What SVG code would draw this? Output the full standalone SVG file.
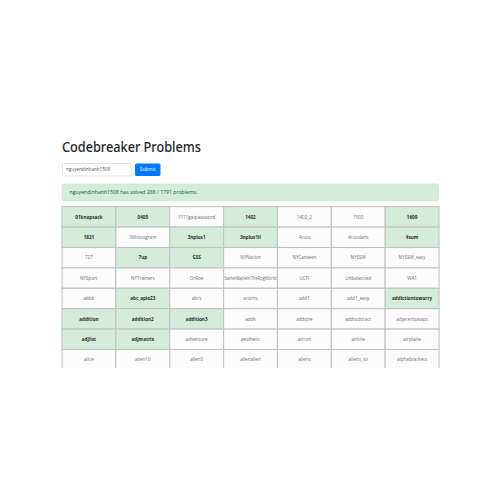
<svg xmlns="http://www.w3.org/2000/svg" width="500" height="500" viewBox="0 0 500 500">
<defs>
<style>
.t{font-family:"Open Sans","Noto Sans","Liberation Sans",sans-serif;}
.c rect{stroke:#c2c2c2;stroke-width:1.1;}
.g rect{fill:#d4edda;}
.w rect{fill:#fcfcfd;}
.c text{font-family:"Open Sans","Noto Sans","Liberation Sans",sans-serif;font-size:4.6px;text-anchor:middle;}
.g text{font-weight:bold;fill:#2a2a2a;}
.w text{fill:#6f6f6f;}
</style>
<clipPath id="clip"><rect x="0" y="0" width="500" height="368"/></clipPath>
</defs>
<rect width="500" height="500" fill="#ffffff"/>
<g id="header">
<text x="62" y="152" font-family="Noto Sans, Open Sans, Liberation Sans, sans-serif" font-weight="500" font-size="14.5" fill="#212529" textLength="139" lengthAdjust="spacingAndGlyphs">Codebreaker Problems</text>
</g>
<g id="input">
<rect x="62.5" y="163.5" width="69.5" height="12.5" rx="1.5" fill="#fff" stroke="#d6d9dc" stroke-width="0.8"/>
<text class="t" x="66" y="171.4" font-size="4.6" fill="#555">nguyendinhanh1508</text>
</g>
<g id="submit">
<rect x="135" y="163.5" width="25.5" height="12.5" rx="1.5" fill="#007bff"/>
<text class="t" x="147.7" y="171.4" font-size="4.8" fill="#fff" text-anchor="middle">Submit</text>
</g>
<g id="alert">
<rect x="62" y="184" width="376.5" height="17" rx="1.5" fill="#d4edda" stroke="#c3e6cb" stroke-width="0.6"/>
<text class="t" x="69.5" y="194" font-size="4.6" fill="#155724" textLength="128" lengthAdjust="spacingAndGlyphs">nguyendinhanh1508 has solved 288 / 1791 problems.</text>
</g>
<g id="table" clip-path="url(#clip)">
<!-- row 1 -->
<g id="c1-1" class="c g"><rect x="62" y="206.7" width="53.86" height="20.4"/><text x="88.9" y="218.5">01knapsack</text></g>
<g id="c1-2" class="c g"><rect x="115.86" y="206.7" width="53.86" height="20.4"/><text x="142.8" y="218.5">0405</text></g>
<g id="c1-3" class="c w"><rect x="169.72" y="206.7" width="53.86" height="20.4"/><text x="196.6" y="218.5">1111gaipassword</text></g>
<g id="c1-4" class="c g"><rect x="223.58" y="206.7" width="53.86" height="20.4"/><text x="250.5" y="218.5">1402</text></g>
<g id="c1-5" class="c w"><rect x="277.44" y="206.7" width="53.86" height="20.4"/><text x="304.4" y="218.5">1402_2</text></g>
<g id="c1-6" class="c w"><rect x="331.3" y="206.7" width="53.86" height="20.4"/><text x="358.2" y="218.5">1503</text></g>
<g id="c1-7" class="c g"><rect x="385.16" y="206.7" width="53.86" height="20.4"/><text x="412.1" y="218.5">1609</text></g>
<!-- row 2 -->
<g id="c2-1" class="c g"><rect x="62" y="227.1" width="53.86" height="20.4"/><text x="88.9" y="238.9">1821</text></g>
<g id="c2-2" class="c w"><rect x="115.86" y="227.1" width="53.86" height="20.4"/><text x="142.8" y="238.9">3dhistogram</text></g>
<g id="c2-3" class="c g"><rect x="169.72" y="227.1" width="53.86" height="20.4"/><text x="196.6" y="238.9">3nplus1</text></g>
<g id="c2-4" class="c g"><rect x="223.58" y="227.1" width="53.86" height="20.4"/><text x="250.5" y="238.9">3nplus1ll</text></g>
<g id="c2-5" class="c w"><rect x="277.44" y="227.1" width="53.86" height="20.4"/><text x="304.4" y="238.9">4cuts</text></g>
<g id="c2-6" class="c w"><rect x="331.3" y="227.1" width="53.86" height="20.4"/><text x="358.2" y="238.9">4russians</text></g>
<g id="c2-7" class="c g"><rect x="385.16" y="227.1" width="53.86" height="20.4"/><text x="412.1" y="238.9">4sum</text></g>
<!-- row 3 -->
<g id="c3-1" class="c w"><rect x="62" y="247.5" width="53.86" height="20.4"/><text x="88.9" y="259.3">727</text></g>
<g id="c3-2" class="c g"><rect x="115.86" y="247.5" width="53.86" height="20.4"/><text x="142.8" y="259.3">7up</text></g>
<g id="c3-3" class="c g"><rect x="169.72" y="247.5" width="53.86" height="20.4"/><text x="196.6" y="259.3">GSS</text></g>
<g id="c3-4" class="c w"><rect x="223.58" y="247.5" width="53.86" height="20.4"/><text x="250.5" y="259.3">NYNation</text></g>
<g id="c3-5" class="c w"><rect x="277.44" y="247.5" width="53.86" height="20.4"/><text x="304.4" y="259.3">NYCanteen</text></g>
<g id="c3-6" class="c w"><rect x="331.3" y="247.5" width="53.86" height="20.4"/><text x="358.2" y="259.3">NYSSW</text></g>
<g id="c3-7" class="c w"><rect x="385.16" y="247.5" width="53.86" height="20.4"/><text x="412.1" y="259.3">NYSSW_easy</text></g>
<!-- row 4 -->
<g id="c4-1" class="c w"><rect x="62" y="267.9" width="53.86" height="20.4"/><text x="88.9" y="279.7">NYSport</text></g>
<g id="c4-2" class="c w"><rect x="115.86" y="267.9" width="53.86" height="20.4"/><text x="142.8" y="279.7">NYTrainers</text></g>
<g id="c4-3" class="c w"><rect x="169.72" y="267.9" width="53.86" height="20.4"/><text x="196.6" y="279.7">OrRoe</text></g>
<g id="c4-4" class="c w"><rect x="223.58" y="267.9" width="53.86" height="20.4"/><text x="250.5" y="279.7" textLength="52" lengthAdjust="spacingAndGlyphs">SameMapleInTheRpgWorld</text></g>
<g id="c4-5" class="c w"><rect x="277.44" y="267.9" width="53.86" height="20.4"/><text x="304.4" y="279.7">UCFI</text></g>
<g id="c4-6" class="c w"><rect x="331.3" y="267.9" width="53.86" height="20.4"/><text x="358.2" y="279.7">Unbalanced</text></g>
<g id="c4-7" class="c w"><rect x="385.16" y="267.9" width="53.86" height="20.4"/><text x="412.1" y="279.7">WA1</text></g>
<!-- row 5 -->
<g id="c5-1" class="c w"><rect x="62" y="288.3" width="53.86" height="20.4"/><text x="88.9" y="300.1">abbb</text></g>
<g id="c5-2" class="c g"><rect x="115.86" y="288.3" width="53.86" height="20.4"/><text x="142.8" y="300.1">abc_apio23</text></g>
<g id="c5-3" class="c w"><rect x="169.72" y="288.3" width="53.86" height="20.4"/><text x="196.6" y="300.1">abcs</text></g>
<g id="c5-4" class="c w"><rect x="223.58" y="288.3" width="53.86" height="20.4"/><text x="250.5" y="300.1">acorns</text></g>
<g id="c5-5" class="c w"><rect x="277.44" y="288.3" width="53.86" height="20.4"/><text x="304.4" y="300.1">add1</text></g>
<g id="c5-6" class="c w"><rect x="331.3" y="288.3" width="53.86" height="20.4"/><text x="358.2" y="300.1">add1_easy</text></g>
<g id="c5-7" class="c g"><rect x="385.16" y="288.3" width="53.86" height="20.4"/><text x="412.1" y="300.1">addictiontoworry</text></g>
<!-- row 6 -->
<g id="c6-1" class="c g"><rect x="62" y="308.7" width="53.86" height="20.4"/><text x="88.9" y="320.5">addition</text></g>
<g id="c6-2" class="c g"><rect x="115.86" y="308.7" width="53.86" height="20.4"/><text x="142.8" y="320.5">addition2</text></g>
<g id="c6-3" class="c g"><rect x="169.72" y="308.7" width="53.86" height="20.4"/><text x="196.6" y="320.5">addition3</text></g>
<g id="c6-4" class="c w"><rect x="223.58" y="308.7" width="53.86" height="20.4"/><text x="250.5" y="320.5">addk</text></g>
<g id="c6-5" class="c w"><rect x="277.44" y="308.7" width="53.86" height="20.4"/><text x="304.4" y="320.5">addone</text></g>
<g id="c6-6" class="c w"><rect x="331.3" y="308.7" width="53.86" height="20.4"/><text x="358.2" y="320.5">addsubtract</text></g>
<g id="c6-7" class="c w"><rect x="385.16" y="308.7" width="53.86" height="20.4"/><text x="412.1" y="320.5">adjacentswaps</text></g>
<!-- row 7 -->
<g id="c7-1" class="c g"><rect x="62" y="329.1" width="53.86" height="20.4"/><text x="88.9" y="340.9">adjlist</text></g>
<g id="c7-2" class="c g"><rect x="115.86" y="329.1" width="53.86" height="20.4"/><text x="142.8" y="340.9">adjmatrix</text></g>
<g id="c7-3" class="c w"><rect x="169.72" y="329.1" width="53.86" height="20.4"/><text x="196.6" y="340.9">adventure</text></g>
<g id="c7-4" class="c w"><rect x="223.58" y="329.1" width="53.86" height="20.4"/><text x="250.5" y="340.9">aesthetic</text></g>
<g id="c7-5" class="c w"><rect x="277.44" y="329.1" width="53.86" height="20.4"/><text x="304.4" y="340.9">aircon</text></g>
<g id="c7-6" class="c w"><rect x="331.3" y="329.1" width="53.86" height="20.4"/><text x="358.2" y="340.9">airline</text></g>
<g id="c7-7" class="c w"><rect x="385.16" y="329.1" width="53.86" height="20.4"/><text x="412.1" y="340.9">airplane</text></g>
<!-- row 8 -->
<g id="c8-1" class="c w"><rect x="62" y="349.5" width="53.86" height="20.4"/><text x="88.9" y="361.3">alice</text></g>
<g id="c8-2" class="c w"><rect x="115.86" y="349.5" width="53.86" height="20.4"/><text x="142.8" y="361.3">alien10</text></g>
<g id="c8-3" class="c w"><rect x="169.72" y="349.5" width="53.86" height="20.4"/><text x="196.6" y="361.3">alien0</text></g>
<g id="c8-4" class="c w"><rect x="223.58" y="349.5" width="53.86" height="20.4"/><text x="250.5" y="361.3">alienalien</text></g>
<g id="c8-5" class="c w"><rect x="277.44" y="349.5" width="53.86" height="20.4"/><text x="304.4" y="361.3">aliens</text></g>
<g id="c8-6" class="c w"><rect x="331.3" y="349.5" width="53.86" height="20.4"/><text x="358.2" y="361.3">aliens_ioi</text></g>
<g id="c8-7" class="c w"><rect x="385.16" y="349.5" width="53.86" height="20.4"/><text x="412.1" y="361.3">alphabrackets</text></g>
</g>
</svg>
